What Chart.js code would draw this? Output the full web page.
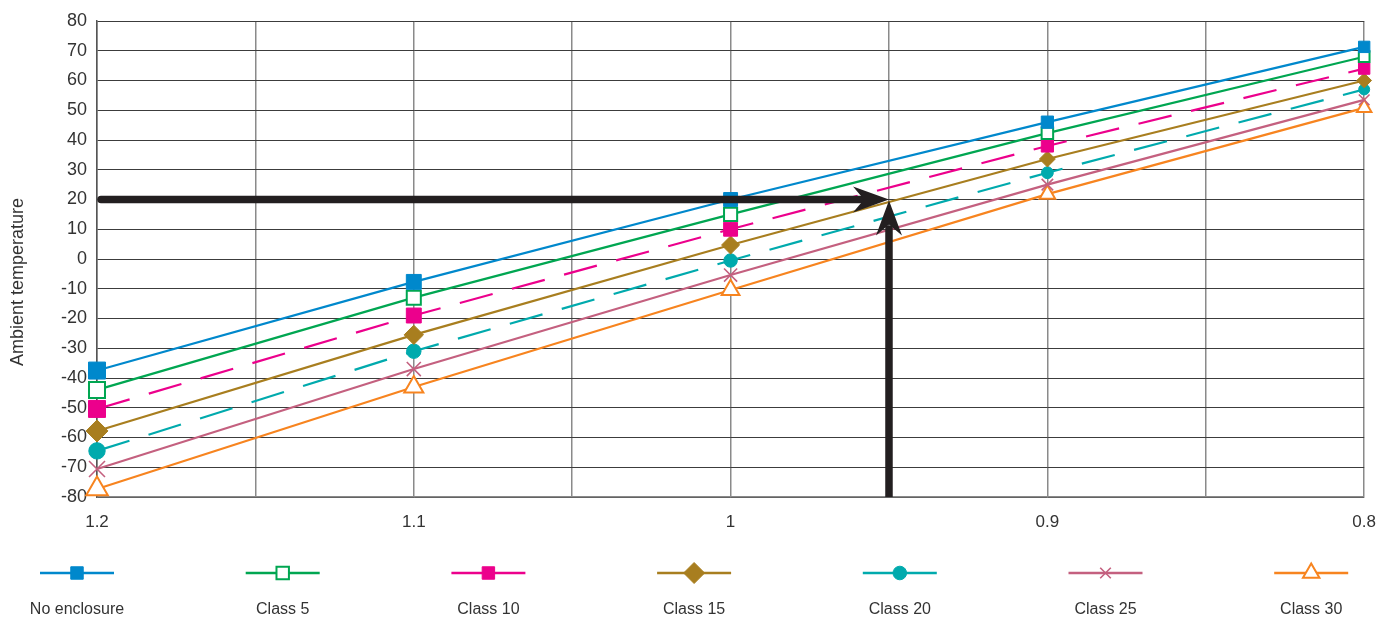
<!DOCTYPE html>
<html>
<head>
<meta charset="utf-8">
<script src="https://cdn.jsdelivr.net/npm/chart.js@4/dist/chart.umd.min.js"></script>
<style>
  html, body { margin: 0; padding: 0; background: #fff; }
  canvas { display: block; }
</style>
</head>
<body>
<canvas id="chart" width="1391" height="623"></canvas>
<script>
// Derating factor on x, ambient temperature on y
const xValues = [1.2, 1.1, 1.0, 0.9, 0.8];
const xTickLabels = ['1.2', '1.1', '1', '0.9', '0.8'];

const seriesNames = ['No enclosure', 'Class 5', 'Class 10', 'Class 15', 'Class 20', 'Class 25', 'Class 30'];

const noEnclosure = [-37.5, -7.7, 20, 46, 71.3];
const class5      = [-44, -13, 15, 42.3, 68];
const class10     = [-50.4, -19, 10, 38, 64];
const class15     = [-57.8, -25.5, 4.7, 33.6, 60];
const class20     = [-64.5, -31, -0.5, 29, 57];
const class25     = [-70.6, -37, -5.4, 25, 53.5];
const class30     = [-77.3, -43, -10.4, 21.8, 50.8];

// reading example shown by the arrows
const arrowFactor = 0.95;
const arrowTemp = 20;

const yTitle = 'Ambient temperature';

const seriesValues = [noEnclosure, class5, class10, class15, class20, class25, class30];

// styling per series
const colors = ['#0088cc', '#00a651', '#ec008c', '#a87e1f', '#00aaad', '#c4607f', '#f7841f'];
const pointStyles = ['rect', 'rect', 'rect', 'rectRot', 'circle', 'crossRot', 'triangle'];
const hollow = [false, true, false, false, false, false, true];
const dashed = [false, false, true, false, true, false, false];
const baseRadius = [12, 11.3, 12, 11, 8.2, 11.3, 12.5];
const legendRadius = [8.8, 8.8, 8.8, 10.5, 6.8, 7.5, 9.5];
// markers shrink towards the right of the chart
const markerScale = [1, 0.88, 0.82, 0.72, 0.67];

const FONT = "'Liberation Sans', Arial, sans-serif";
const TEXT = '#333333';

const datasets = seriesNames.map((name, i) => ({
    label: name,
    data: xValues.map((x, j) => ({ x: x, y: seriesValues[i][j] })),
    borderColor: colors[i],
    borderWidth: 2.2,
    borderDash: dashed[i] ? [34, 20] : [],
    pointStyle: pointStyles[i],
    pointBackgroundColor: hollow[i] ? '#ffffff' : colors[i],
    pointBorderColor: colors[i],
    pointBorderWidth: hollow[i] ? 2 : (pointStyles[i] === 'crossRot' ? 1.6 : 1),
    pointRadius: ctx => baseRadius[i] * markerScale[ctx.dataIndex],
    pointHoverRadius: ctx => baseRadius[i] * markerScale[ctx.dataIndex],
    tension: 0,
    fill: false,
    clip: false
}));

const arrowPlugin = {
    id: 'arrows',
    afterDatasetsDraw(chart) {
        const { ctx, scales: { x, y } } = chart;
        const xStart = x.getPixelForValue(xValues[0]);
        const xTip = x.getPixelForValue(arrowFactor);
        const yTip = y.getPixelForValue(arrowTemp);
        const yBottom = y.getPixelForValue(y.min);
        ctx.save();
        ctx.strokeStyle = '#231f20';
        ctx.fillStyle = '#231f20';
        ctx.lineWidth = 7.5;
        ctx.lineCap = 'round';
        // horizontal
        ctx.beginPath();
        ctx.moveTo(xStart + 4, yTip);
        ctx.lineTo(xTip - 26, yTip);
        ctx.stroke();
        ctx.beginPath();
        ctx.moveTo(xTip, yTip);
        ctx.lineTo(xTip - 36, yTip - 13);
        ctx.lineTo(xTip - 25, yTip);
        ctx.lineTo(xTip - 36, yTip + 13);
        ctx.closePath();
        ctx.fill();
        // vertical
        ctx.lineCap = 'butt';
        ctx.beginPath();
        ctx.moveTo(xTip, yBottom);
        ctx.lineTo(xTip, yTip + 26);
        ctx.stroke();
        ctx.beginPath();
        ctx.moveTo(xTip, yTip + 1);
        ctx.lineTo(xTip - 13, yTip + 36);
        ctx.lineTo(xTip, yTip + 25);
        ctx.lineTo(xTip + 13, yTip + 36);
        ctx.closePath();
        ctx.fill();
        ctx.restore();
    }
};

const legendPlugin = {
    id: 'bottomLegend',
    afterDraw(chart) {
        const ctx = chart.ctx;
        const n = seriesNames.length;
        const step = 205.7;
        const lineY = 573;
        const textY = 610;
        ctx.save();
        for (let i = 0; i < n; i++) {
            const cx = 77 + i * step;
            ctx.strokeStyle = colors[i];
            ctx.lineWidth = 2.5;
            ctx.setLineDash([]);
            ctx.beginPath();
            ctx.moveTo(cx - 37, lineY);
            ctx.lineTo(cx + 37, lineY);
            ctx.stroke();
            ctx.fillStyle = hollow[i] ? '#ffffff' : colors[i];
            ctx.lineWidth = hollow[i] ? 2 : (pointStyles[i] === 'crossRot' ? 1.6 : 1);
            Chart.helpers.drawPoint(ctx, {
                pointStyle: pointStyles[i],
                radius: legendRadius[i],
                rotation: 0,
                borderWidth: ctx.lineWidth
            }, cx, lineY);
            ctx.fillStyle = TEXT;
            ctx.font = '16px ' + FONT;
            ctx.textAlign = 'center';
            ctx.textBaseline = 'middle';
            ctx.fillText(seriesNames[i], cx, textY);
        }
        // y axis title
        ctx.translate(18, 282);
        ctx.rotate(-Math.PI / 2);
        ctx.font = '18px ' + FONT;
        ctx.fillText(yTitle, 0, 0);
        ctx.restore();
    }
};

new Chart(document.getElementById('chart').getContext('2d'), {
    type: 'line',
    data: { datasets: datasets },
    plugins: [arrowPlugin, legendPlugin],
    options: {
        responsive: false,
        animation: false,
        layout: { padding: { top: 21, right: 21, bottom: 86, left: 0 } },
        plugins: {
            legend: { display: false },
            tooltip: { enabled: false }
        },
        scales: {
            x: {
                type: 'linear',
                reverse: true,
                min: 0.8,
                max: 1.2,
                afterFit: scale => { scale.height = 40; },
                ticks: {
                    stepSize: 0.05,
                    autoSkip: false,
                    maxRotation: 0,
                    padding: 15,
                    color: TEXT,
                    font: { family: FONT, size: 17 },
                    callback: value => {
                        const idx = xValues.findIndex(v => Math.abs(v - value) < 1e-6);
                        return idx >= 0 ? xTickLabels[idx] : '';
                    }
                },
                grid: { color: '#8a8a8a', lineWidth: 1.5, drawTicks: false },
                border: { color: '#8a8a8a', width: 1.5 }
            },
            y: {
                min: -80,
                max: 80,
                afterFit: scale => { scale.width = 97; },
                ticks: {
                    stepSize: 10,
                    padding: 10,
                    color: TEXT,
                    font: { family: FONT, size: 18 }
                },
                grid: { color: '#3c3c3c', lineWidth: 1, drawTicks: false },
                border: { color: '#555555', width: 1.5 }
            }
        }
    }
});
</script>
</body>
</html>
